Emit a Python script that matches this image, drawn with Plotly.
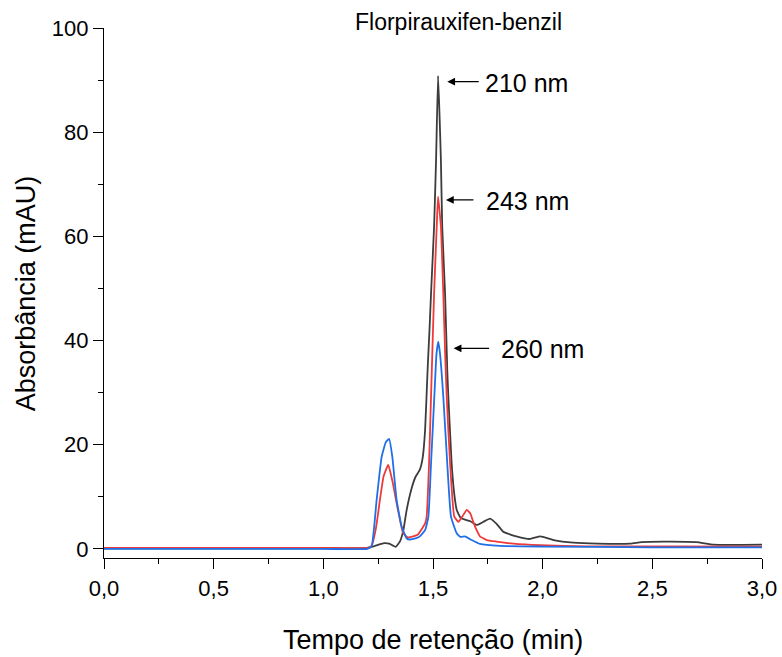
import plotly.graph_objects as go

# ---- data ----
t_210 = [0.00, 0.50, 1.00, 1.20, 1.23, 1.26, 1.28, 1.30, 1.33, 1.35,
         1.365, 1.38, 1.403, 1.42, 1.44, 1.453, 1.464, 1.476, 1.484, 1.491,
         1.505, 1.514, 1.523, 1.530, 1.536, 1.542, 1.555, 1.565, 1.570, 1.585,
         1.597, 1.608, 1.625, 1.646, 1.67, 1.70, 1.73, 1.76, 1.79, 1.82,
         1.85, 1.88, 1.94, 1.99, 2.05, 2.14, 2.25, 2.40, 2.45, 2.55,
         2.70, 2.78, 3.00]
a_210 = [0.1, 0.1, 0.1, 0.2, 0.5, 0.9, 1.1, 1.0, 0.4, 1.5,
         3.6, 7.5, 11.7, 13.8, 15.2, 17.5, 22.8, 35.0, 42.0, 49.0,
         61.9, 74.7, 90.8, 83.0, 74.7, 61.9, 49.0, 34.4, 29.2, 16.4,
         10.5, 7.5, 6.0, 5.6, 5.3, 4.6, 5.2, 5.8, 4.8, 3.3,
         2.8, 2.4, 1.9, 2.4, 1.7, 1.2, 1.0, 1.0, 1.3, 1.4,
         1.3, 0.8, 0.8]

t_243 = [0.00, 0.50, 1.00, 1.20, 1.22, 1.24, 1.258, 1.275, 1.296, 1.315,
         1.34, 1.364, 1.386, 1.41, 1.43, 1.456, 1.465, 1.471, 1.482, 1.491,
         1.505, 1.517, 1.523, 1.536, 1.547, 1.555, 1.5625, 1.578, 1.597, 1.616,
         1.635, 1.654, 1.67, 1.685, 1.70, 1.714, 1.745, 1.79, 1.866, 1.99,
         2.20, 2.60, 3.00]
a_243 = [0.2, 0.2, 0.2, 0.2, 0.6, 4.0, 9.4, 14.0, 16.1, 13.0,
         7.5, 3.0, 2.2, 2.4, 2.7, 4.3, 5.0, 6.2, 16.4, 29.2,
         49.0, 61.9, 67.6, 61.9, 49.0, 38.0, 29.2, 16.4, 6.2, 5.2,
         6.3, 7.5, 6.8, 5.0, 3.5, 2.4, 1.7, 1.4, 1.0, 0.7,
         0.5, 0.5, 0.45]

t_260 = [0.00, 0.50, 1.00, 1.20, 1.22, 1.243, 1.266, 1.285, 1.30, 1.315,
         1.334, 1.357, 1.38, 1.395, 1.42, 1.44, 1.464, 1.479, 1.491, 1.506,
         1.516, 1.524, 1.532, 1.547, 1.565, 1.582, 1.608, 1.625, 1.646, 1.676,
         1.714, 1.805, 2.00, 2.50, 3.00]
a_260 = [0.0, 0.0, 0.0, 0.0, 0.5, 9.4, 17.7, 20.5, 21.1, 17.5,
         9.4, 4.3, 2.0, 1.8, 2.0, 2.4, 3.6, 6.2, 16.4, 29.2,
         37.5, 39.8, 37.5, 29.2, 16.4, 6.2, 3.0, 2.3, 2.4, 1.7,
         0.96, 0.58, 0.45, 0.3, 0.3]

series_names = ["210 nm", "243 nm", "260 nm"]
series_colors = ["#3c3c3c", "#ef3a3a", "#1f6fe8"]

x_tick_vals = [0.0, 0.5, 1.0, 1.5, 2.0, 2.5, 3.0]
x_tick_text = ["0,0", "0,5", "1,0", "1,5", "2,0", "2,5", "3,0"]
y_tick_vals = [0, 20, 40, 60, 80, 100]
y_tick_text = ["0", "20", "40", "60", "80", "100"]

title_text = "Florpirauxifen-benzil"
x_title = "Tempo de retenção (min)"
y_title = "Absorbância (mAU)"

FONT = "Liberation Sans, Arial, sans-serif"

fig = go.Figure()
for t, a, name, col in zip([t_210, t_243, t_260], [a_210, a_243, a_260],
                           series_names, series_colors):
    fig.add_trace(go.Scatter(x=t, y=a, mode="lines", name=name,
                             line=dict(color=col, width=1.8, shape="spline",
                                       smoothing=0.4),
                             showlegend=False))

# peak labels with arrows (tip just right of each peak apex)
arrow_dx = [0.042, 0.036, 0.070]   # offset of arrow tip from apex (min)
arrow_dy = [-1.1, -0.6, -1.3]      # offset of arrow tip from apex (mAU)
arrow_len = [33, 29, 37]           # arrow length in px
text_gap = [5, 11, 10]             # gap between arrow tail and text (px)
for t, a, name, dx, dy, L, g in zip([t_210, t_243, t_260], [a_210, a_243, a_260],
                                    series_names, arrow_dx, arrow_dy, arrow_len, text_gap):
    i = a.index(max(a))
    xt, yt = t[i] + dx, a[i] + dy
    fig.add_annotation(x=xt, y=yt, xref="x", yref="y", text="",
                       showarrow=True, ax=L, ay=0, arrowhead=2,
                       arrowsize=1.3, arrowwidth=1.2, arrowcolor="black",
                       standoff=0, startstandoff=0)
    fig.add_annotation(x=xt, y=yt, xref="x", yref="y", text=name,
                       showarrow=False, xanchor="left", yanchor="middle",
                       xshift=L + g - 2, yshift=-1,
                       font=dict(family=FONT, size=25, color="black"))

fig.add_annotation(x=0.538, y=1.012, xref="paper", yref="paper",
                   text=title_text, showarrow=False,
                   xanchor="center", yanchor="middle",
                   font=dict(family=FONT, size=23, color="black"))
fig.add_annotation(x=0.5, y=-0.155, xref="paper", yref="paper",
                   text=x_title, showarrow=False,
                   xanchor="center", yanchor="middle",
                   font=dict(family=FONT, size=27, color="black"))
fig.add_annotation(x=-0.118, y=0.50, xref="paper", yref="paper",
                   text=y_title, showarrow=False, textangle=-90,
                   xanchor="center", yanchor="middle",
                   font=dict(family=FONT, size=27, color="black"))

fig.update_layout(
    width=782, height=657,
    margin=dict(l=104, r=20, t=28, b=99, autoexpand=False),
    paper_bgcolor="white", plot_bgcolor="white",
    font=dict(family=FONT, color="black"),
    xaxis=dict(range=[0, 3], tickvals=x_tick_vals, ticktext=x_tick_text,
               automargin=False,
               showgrid=False, zeroline=False, showline=True,
               linecolor="black", linewidth=1.3, ticks="outside",
               ticklen=10, tickwidth=1.3, tickcolor="black",
               tickfont=dict(family=FONT, size=22, color="black"),
               minor=dict(dtick=0.25, ticks="outside", ticklen=5,
                          tickwidth=1.3, tickcolor="black", showgrid=False)),
    yaxis=dict(range=[-1.75, 100], tickvals=y_tick_vals, ticktext=y_tick_text,
               automargin=False,
               showgrid=False, zeroline=False, showline=True,
               linecolor="black", linewidth=1.3, ticks="outside",
               ticklen=10, tickwidth=1.3, tickcolor="black",
               tickfont=dict(family=FONT, size=22, color="black"),
               minor=dict(dtick=10, tick0=0, ticks="outside", ticklen=5,
                          tickwidth=1.3, tickcolor="black", showgrid=False)),
)

fig.write_html("out.html")
